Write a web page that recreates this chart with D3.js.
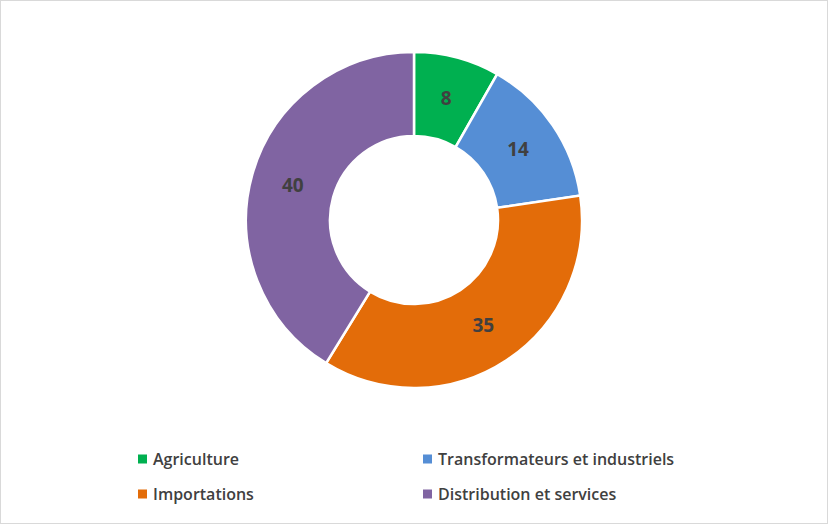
<!DOCTYPE html>
<html>
<head>
<meta charset="utf-8">
<script src="https://cdn.jsdelivr.net/npm/d3@7"></script>
<style>
  body { margin: 0; background: #fff; }
  svg { font-family: "Open Sans", "Liberation Sans", sans-serif; }
</style>
</head>
<body>
<script>
// chart data
var categories = ['Agriculture', 'Transformateurs et industriels', 'Importations', 'Distribution et services'];
var values = [8, 14, 35, 40];
var colors = ['#00B050', '#558ED5', '#E36C09', '#8064A2'];

var width = 828, height = 524;
var svg = d3.select('body').append('svg')
  .attr('width', width)
  .attr('height', height);

// outer frame
svg.append('rect')
  .attr('x', 0.5).attr('y', 0.5)
  .attr('width', width - 1).attr('height', height - 1)
  .attr('fill', '#fff')
  .attr('stroke', '#d9d9d9');

var cx = 414, cy = 220, outer = 168, inner = 84;

var pie = d3.pie().sort(null).value(function(d) { return d; });
var arc = d3.arc().innerRadius(inner).outerRadius(outer);
var arcs = pie(values);

var g = svg.append('g').attr('transform', 'translate(' + cx + ',' + cy + ')');

g.selectAll('path')
  .data(arcs)
  .enter().append('path')
  .attr('d', arc)
  .attr('fill', function(d, i) { return colors[i]; })
  .attr('stroke', '#fff')
  .attr('stroke-width', 2.5);

g.selectAll('text')
  .data(arcs)
  .enter().append('text')
  .attr('transform', function(d) { return 'translate(' + arc.centroid(d) + ')'; })
  .attr('text-anchor', 'middle')
  .attr('dy', '0.35em')
  .attr('font-size', 19)
  .attr('font-weight', 'bold')
  .attr('fill', '#404040')
  .text(function(d) { return d.data; });

// legend, two columns
var legendX = [138, 423], legendY = [459, 494];
var legend = svg.selectAll('.legend')
  .data(categories)
  .enter().append('g')
  .attr('class', 'legend')
  .attr('transform', function(d, i) {
    return 'translate(' + legendX[i % 2] + ',' + legendY[Math.floor(i / 2)] + ')';
  });

legend.append('rect')
  .attr('x', 0).attr('y', -4.5)
  .attr('width', 9).attr('height', 9)
  .attr('fill', function(d, i) { return colors[i]; });

legend.append('text')
  .attr('x', 15)
  .attr('dy', '0.35em')
  .attr('font-size', 16)
  .attr('font-weight', 600)
  .attr('fill', '#404040')
  .text(function(d) { return d; });
</script>
</body>
</html>
